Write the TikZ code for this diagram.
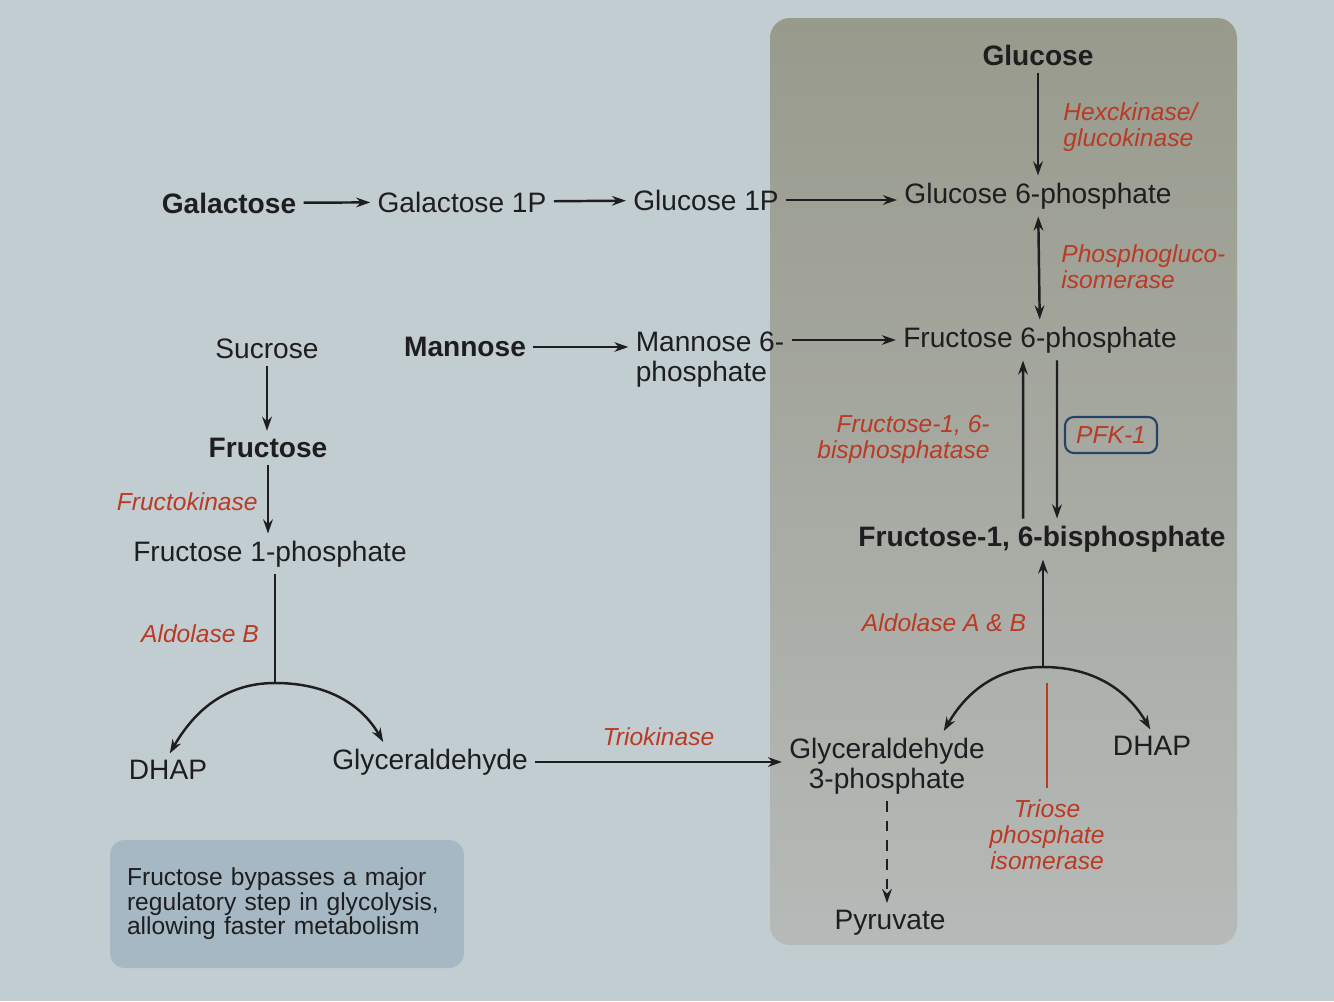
\documentclass[tikz,border=0pt]{standalone}
\usepackage{fontspec}
\setmainfont{Liberation Sans}
\usetikzlibrary{arrows.meta,positioning}

\definecolor{paper}{RGB}{194,205,210}
\definecolor{panelTop}{RGB}{152,154,140}
\definecolor{panelBot}{RGB}{182,186,184}
\definecolor{enzred}{RGB}{186,58,36}
\definecolor{pfkblue}{RGB}{38,66,104}
\definecolor{notefill}{RGB}{166,184,195}
\definecolor{ink}{RGB}{30,30,32}

\begin{document}
\begin{tikzpicture}[
  x=0.02cm, y=-0.02cm,
  met/.style={inner sep=2pt, text=ink, align=center, font=\fontsize{16}{17}\selectfont},
  metb/.style={met, font=\fontsize{16}{17}\selectfont\bfseries},
  enz/.style={inner sep=0pt, text=enzred, font=\fontsize{14}{14.8}\selectfont\itshape},
  pfkbox/.style={enz, draw=pfkblue, line width=1.2pt, rounded corners=5pt, minimum width=1.84cm, minimum height=0.72cm},
  notebox/.style={fill=notefill, rounded corners=0.3cm, text width=6.4cm, inner xsep=0.34cm, minimum height=2.56cm, align=left, text=ink, font=\fontsize{14}{14}\selectfont},
  arr/.style={-{Stealth[length=8pt,width=5.5pt]}, line width=1.4pt, draw=ink, shorten >=2pt, shorten <=2pt},
  arrs/.style={arr, {Stealth[length=8pt,width=5.5pt]}-{Stealth[length=8pt,width=5.5pt]}},
  tpiline/.style={draw=enzred, line width=1.2pt}
]
% background and glycolysis panel
\fill[paper] (0,0) rectangle (1334,1001);
\shade[top color=panelTop, bottom color=panelBot, rounded corners=0.4cm] (770,18) rectangle (1237,945);

% metabolites
\node[metb] (glc) at (1038,55) {Glucose};
\node[met] (g6p) at (1038,196) {Glucose 6-phosphate};
\node[metb] (gal) at (229,203) {Galactose};
\node[met] (gal1p) at (462,202) {Galactose 1P};
\node[met] (glc1p) at (706,200) {Glucose 1P};
\node[met] (f6p) at (1040,340) {Fructose 6-phosphate};
\node[met] (suc) at (267,349) {Sucrose};
\node[metb] (man) at (465,347) {Mannose};
\node[met, align=left] (m6p) at (710,360) {Mannose 6-\\phosphate};
\node[metb] (fru) at (268,448) {Fructose};
\node[met] (f1p) at (270,554) {Fructose 1-phosphate};
\node[metb] (f16bp) at (1042,539) {Fructose-1, 6-bisphosphate};
\node[met] (dhapL) at (168,770) {DHAP};
\node[met] (glyc) at (430,762) {Glyceraldehyde};
\node[met] (g3p) at (887,766) {Glyceraldehyde\\3-phosphate};
\node[met] (dhapR) at (1152,746) {DHAP};
\node[met] (pyr) at (890,923) {Pyruvate};

% enzymes
\node[enz, anchor=west, align=left] (hk) at (1063,127) {Hexckinase/\\glucokinase};
\node[enz, anchor=west, align=left] (pgi) at (1061,267) {Phosphogluco-\\isomerase};
\node[enz, anchor=east, align=right] (fbpase) at (990,439) {Fructose-1, 6-\\bisphosphatase};
\node[pfkbox] (pfk) at (1111,435) {PFK-1};
\node[enz, anchor=east] (fk) at (258,502) {Fructokinase};
\node[enz] (aldB) at (200,634) {Aldolase B};
\node[enz] (aldAB) at (944,623) {Aldolase A \& B};
\node[enz, align=center] (tpi) at (1047,835) {Triose\\phosphate\\isomerase};

\node[notebox] (note) at (287,904) {Fructose bypasses a major\\regulatory step in glycolysis,\\allowing faster metabolism};

\coordinate (splitB) at (275,683);
\coordinate (splitA) at (1043,667);

% connectors
\draw[arr] (glc) -- (g6p);
\draw[arr] (gal) -- (gal1p);
\draw[arr] (gal1p) -- (glc1p);
\draw[arr] (glc1p) -- (glc1p -| g6p.west);
\draw[arrs] (g6p) -- (f6p);
\draw[arr] (man) -- (man -| m6p.west);
\draw[arr] (m6p.east |- f6p.west) -- (f6p.west);
\draw[arr] ([xshift=-0.38cm]f16bp.north) -- ([xshift=-0.34cm]f6p.south);
\draw[arr] ([xshift=0.34cm]f6p.south) -- ([xshift=0.3cm]f16bp.north);

\draw[arr] (suc) -- (suc |- fru.north);
\draw[arr] (fru) -- (fru |- f1p.north);
\draw[line width=1.4pt, draw=ink, shorten <=2pt] (f1p.south -| splitB) -- (splitB);
\draw[arr, shorten <=0pt] (splitB) to[out=180, in=60] (dhapL.north);
\draw[arr, shorten <=0pt] (splitB) to[out=0, in=120] ([xshift=-0.9cm]glyc.north);
\draw[arr] (glyc) -- (glyc -| g3p.west) node[enz, midway, above=0.3cm] (trio) {Triokinase};

\draw[arr, shorten <=0pt] (splitA) -- (splitA |- f16bp.south);
\draw[arr, shorten <=0pt] (splitA) to[out=180, in=60] ([xshift=1.1cm]g3p.north);
\draw[arr, shorten <=0pt] (splitA) to[out=0, in=120] (dhapR.north);
\draw[tpiline, shorten <=0.24cm, shorten >=0.32cm] (tpi.north) -- (splitA -| tpi.north);
\draw[arr, line width=1.2pt, dash pattern=on 6pt off 5pt] (g3p.south) -- (g3p.south |- pyr.north);
\end{tikzpicture}
\end{document}
